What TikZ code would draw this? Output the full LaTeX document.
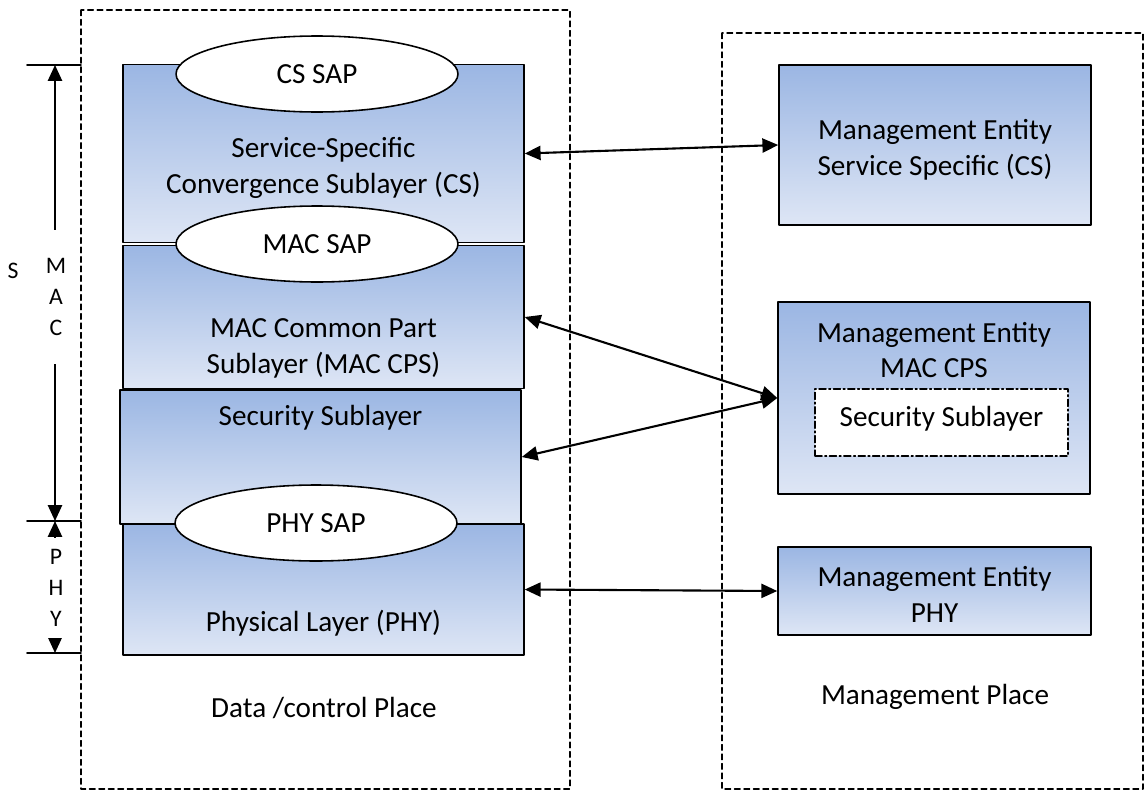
\documentclass[tikz,border=0pt]{standalone}
\usepackage{fontspec}
\setmainfont{Carlito}
\usetikzlibrary{arrows.meta}
\usetikzlibrary{shapes.geometric}

\definecolor{layertop}{RGB}{155,182,227}
\definecolor{layerbot}{RGB}{222,230,245}

\tikzset{
  layerbox/.style={draw, line width=0.9pt, top color=layertop, bottom color=layerbot, minimum width=8.02cm, inner sep=0pt},
  mgmtbox/.style={draw, line width=0.9pt, top color=layertop, bottom color=layerbot, inner sep=0pt},
  sapoval/.style={ellipse, draw, line width=0.9pt, fill=white, minimum width=5.64cm, minimum height=1.52cm, inner sep=0pt, font=\fontsize{16.6}{20}\selectfont},
  boxtext/.style={align=center, inner sep=0pt, font=\fontsize{16.6}{20.4}\selectfont},
  scaletext/.style={align=center, fill=white, inner xsep=1pt, inner ysep=0pt, font=\fontsize{13.5}{17.5}\selectfont},
  placeline/.style={dashed, line width=0.8pt, dash pattern=on 3.2pt off 2.2pt},
  linkarrow/.style={{Triangle[length=9pt,width=8pt]}-{Triangle[length=9pt,width=8pt]}, line width=1.2pt},
  tickline/.style={line width=0.9pt}
}

\begin{document}
\begin{tikzpicture}[x=0.02cm, y=-0.02cm, line cap=round, line join=round]
\useasboundingbox (0,0) rectangle (1146,791);

% The two places
\draw[placeline] (81,10) rectangle (570,789);
\draw[placeline] (722,33) rectangle (1143,789);
\node[boxtext] (dataplace) at (324,708) {Data /control Place};
\node[boxtext] (mgmtplace) at (935,697) {Management Place};

% Layer stack (left)
\node[layerbox, minimum height=3.56cm] (cs) at (323.5,153.5) {};
\node[layerbox, minimum height=2.86cm] (maccps) at (323.5,317) {};
\node[layerbox, minimum height=2.68cm] (secsub) at (320.5,457) {};
\node[layerbox, minimum height=2.62cm] (phy) at (323.5,589.5) {};

\node[boxtext] (cstext) at (323.5,168) {Service-Specific\\Convergence Sublayer (CS)};
\node[boxtext] (maccpstext) at (323.5,348) {MAC Common Part\\Sublayer (MAC CPS)};
\node[boxtext] (secsubtext) at (320.5,418) {Security Sublayer};
\node[boxtext] (phytext) at (323.5,623) {Physical Layer (PHY)};

\node[sapoval] (cssap) at (317,74) {CS SAP};
\node[sapoval] (macsap) at (317,244) {MAC SAP};
\node[sapoval] (physap) at (316,523) {PHY SAP};

% Management entities (right)
\node[mgmtbox, minimum width=6.24cm, minimum height=3.2cm] (mecs) at (935,145) {};
\node[boxtext] (mecstext) at (935,149.5) {Management Entity\\Service Specific (CS)};

\node[mgmtbox, minimum width=6.24cm, minimum height=3.84cm] (memac) at (934,398) {};
\node[boxtext] (memactext) at (934,350) {Management Entity\\MAC CPS};
\node[draw, fill=white, line width=0.8pt, dash pattern=on 4pt off 1.6pt on 1pt off 1.6pt, minimum width=5.06cm, minimum height=1.34cm, inner sep=0pt] (mesec) at (941.5,422.5) {};
\node[boxtext] (mesectext) at (941.5,419) {Security Sublayer};

\node[mgmtbox, minimum width=6.26cm, minimum height=1.76cm] (mephy) at (934.5,591) {};
\node[boxtext] (mephytext) at (934.5,594.5) {Management Entity\\PHY};

% Links
\draw[linkarrow] (cs.east) -- (mecs.west);
\draw[linkarrow] (maccps.east) -- (memac.west);
\draw[linkarrow] (secsub.east) -- (memac.west);
\draw[linkarrow] (phy.east) -- (mephy.west);

% Scale on the left
\coordinate (mactop) at (55,65);
\coordinate (macbot) at (55,521);
\coordinate (phybot) at (55,653);
\draw[tickline] (27,65) -- (81,65);
\draw[tickline] (27,521) -- (81,521);
\draw[tickline] (27,653) -- (81,653);
\draw[linkarrow] (mactop) -- (macbot);
\draw[linkarrow] (macbot) -- (phybot);
\node[scaletext, minimum height=2.7cm] (maclabel) at (56,297) {M\\A\\C};
\node[scaletext, minimum height=2.0cm] (phylabel) at (56,588) {P\\H\\Y};
\node[scaletext, fill=none] (slabel) at (13,271) {S};

\end{tikzpicture}
\end{document}
